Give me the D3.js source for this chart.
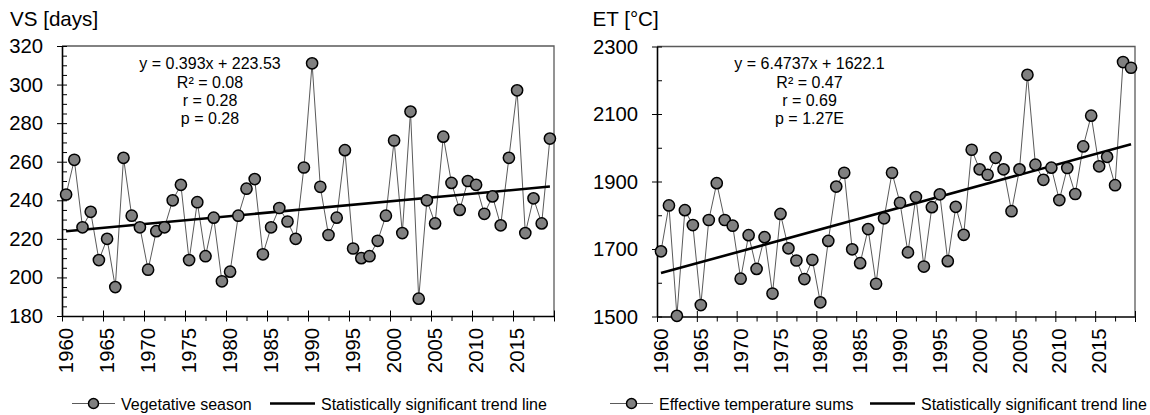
<!DOCTYPE html>
<html>
<head>
<meta charset="utf-8">
<script src="https://cdn.jsdelivr.net/npm/d3@7"></script>
<style>
body { margin: 0; background: #fff; }
svg { display: block; font-family: "Liberation Sans", Arial, sans-serif; }
</style>
</head>
<body>
<svg id="chart" width="1150" height="415"></svg>
<script>
"use strict";

var years = d3.range(1960, 2020);
var yearLabels = [1960, 1965, 1970, 1975, 1980, 1985, 1990, 1995, 2000, 2005, 2010, 2015];

// vegetative season length [days]
var vsDays = [243, 261, 226, 234, 209, 220, 195, 262, 232, 226,
    204, 224, 226, 240, 248, 209, 239, 211, 231, 198,
    203, 232, 246, 251, 212, 226, 236, 229, 220, 257,
    311, 247, 222, 231, 266, 215, 210, 211, 219, 232,
    271, 223, 286, 189, 240, 228, 273, 249, 235, 250,
    248, 233, 242, 227, 262, 297, 223, 241, 228, 272];

// effective temperature sums [°C]
var etSums = [1693, 1829, 1502, 1815, 1771, 1534, 1786, 1895, 1786, 1769,
    1612, 1741, 1641, 1735, 1568, 1804, 1702, 1666, 1611, 1668,
    1542, 1724, 1885, 1926, 1699, 1658, 1759, 1597, 1791, 1926,
    1837, 1690, 1854, 1648, 1824, 1862, 1664, 1825, 1742, 1994,
    1936, 1920, 1970, 1936, 1812, 1936, 2216, 1950, 1905, 1941,
    1845, 1940, 1863, 2004, 2095, 1945, 1973, 1889, 2254, 2237];

var vsTicks = [180, 200, 220, 240, 260, 280, 300, 320];
var etTicks = [1500, 1700, 1900, 2100, 2300];

// trend: slope, intercept (x = 1..60)
var vsTrend = [0.393, 223.53];
var etTrend = [6.4737, 1622.1];

var vsStats = ["y = 0.393x + 223.53", "R\u00b2 = 0.08", "r = 0.28", "p = 0.28"];
var etStats = ["y = 6.4737x + 1622.1", "R\u00b2 = 0.47", "r = 0.69", "p = 1.27E"];

var svg = d3.select("#chart");

function drawPanel(cfg) {
    var g = svg.append("g");
    var x = d3.scaleBand().domain(years).range([cfg.left, cfg.right]);
    var xb = d3.scaleLinear().domain([0, years.length]).range([cfg.left, cfg.right]);
    var y = d3.scaleLinear().domain([cfg.ticks[0], cfg.ticks[cfg.ticks.length - 1]]).range([cfg.bottom, cfg.top]);
    var bw = x.bandwidth();

    // frame top + right
    g.append("path")
        .attr("d", "M" + cfg.left + "," + cfg.top + "H" + cfg.right + "V" + cfg.bottom)
        .attr("fill", "none").attr("stroke", "#5a5a5a").attr("stroke-width", 1.3);

    // y axis, major ticks crossing
    var yAxis = g.append("g").attr("transform", "translate(" + cfg.left + ",0)")
        .call(d3.axisLeft(y).tickValues(cfg.ticks).tickFormat(d3.format("d"))
            .tickSize(5).tickSizeOuter(0).tickPadding(14));
    yAxis.selectAll(".tick line").attr("x1", 5);
    yAxis.select(".domain").attr("stroke-width", 1.6);
    yAxis.selectAll("text").attr("font-size", 20.3).attr("fill", "#000");

    // y minor ticks, inside
    var minorY = d3.range(cfg.ticks[0], cfg.ticks[cfg.ticks.length - 1], cfg.minorStep)
        .filter(function (v) { return cfg.ticks.indexOf(v) < 0; });
    var yMinor = g.append("g").attr("transform", "translate(" + cfg.left + ",0)")
        .call(d3.axisRight(y).tickValues(minorY).tickSize(5).tickSizeOuter(0).tickFormat(""));
    yMinor.select(".domain").remove();

    // x axis ticks on band edges
    var majorX = d3.range(0, years.length + 1, 5);
    var minorX = d3.range(2.5, years.length, 5);
    var xAxis = g.append("g").attr("transform", "translate(0," + cfg.bottom + ")")
        .call(d3.axisBottom(xb).tickValues(majorX).tickSize(5.5).tickSizeOuter(0).tickFormat(""));
    xAxis.selectAll(".tick line").attr("y1", -5.5);
    xAxis.select(".domain").attr("stroke-width", 1.6);
    var xMinor = g.append("g").attr("transform", "translate(0," + cfg.bottom + ")")
        .call(d3.axisBottom(xb).tickValues(minorX).tickSize(5).tickFormat(""));
    xMinor.select(".domain").remove();

    // x labels at band centres, rotated
    var xLab = g.append("g").attr("transform", "translate(0," + cfg.bottom + ")")
        .call(d3.axisBottom(x).tickValues(yearLabels).tickSize(0));
    xLab.select(".domain").remove();
    xLab.selectAll("text")
        .attr("font-size", 20.3).attr("fill", "#000")
        .attr("transform", "rotate(-90)")
        .attr("x", -12).attr("y", 0).attr("dy", "0.35em")
        .attr("text-anchor", "end");

    svg.selectAll(".tick line, .domain").attr("stroke", "#000");

    // title
    g.append("text").attr("x", cfg.titleX).attr("y", 25.5)
        .attr("font-size", 20.6).text(cfg.title);

    // stats text
    g.append("g").selectAll("text").data(cfg.stats).enter().append("text")
        .attr("x", cfg.statsX)
        .attr("y", function (_, i) { return 69.3 + i * 18.35; })
        .attr("text-anchor", "middle").attr("font-size", 16)
        .text(function (d) { return d; });

    // series
    var line = d3.line()
        .x(function (d, i) { return x(years[i]) + bw / 2; })
        .y(function (d) { return y(d); });
    g.append("path").datum(cfg.values)
        .attr("d", line)
        .attr("fill", "none").attr("stroke", "#5a5a5a").attr("stroke-width", 1);

    // trend line
    var trendX = [1, years.length];
    g.append("path").datum(trendX)
        .attr("d", d3.line()
            .x(function (d) { return x(years[d - 1]) + bw / 2; })
            .y(function (d) { return y(cfg.trend[0] * d + cfg.trend[1]); }))
        .attr("fill", "none").attr("stroke", "#000").attr("stroke-width", 2.6);

    g.append("g").selectAll("circle").data(cfg.values).enter().append("circle")
        .attr("cx", function (d, i) { return x(years[i]) + bw / 2; })
        .attr("cy", function (d) { return y(d); })
        .attr("r", 5.6)
        .attr("fill", "#808080").attr("stroke", "#000").attr("stroke-width", 1.5);

    // legend
    var ly = 403.5;
    var lg = g.append("g");
    lg.append("line").attr("x1", cfg.leg[0]).attr("x2", cfg.leg[0] + 43)
        .attr("y1", ly).attr("y2", ly).attr("stroke", "#5a5a5a").attr("stroke-width", 1);
    lg.append("circle").attr("cx", cfg.leg[0] + 21.5).attr("cy", ly).attr("r", 5)
        .attr("fill", "#808080").attr("stroke", "#000").attr("stroke-width", 1.5);
    lg.append("text").attr("x", cfg.leg[0] + 49).attr("y", ly + 6)
        .attr("font-size", 16).text(cfg.seriesName);
    lg.append("line").attr("x1", cfg.leg[1]).attr("x2", cfg.leg[1] + 45)
        .attr("y1", ly).attr("y2", ly).attr("stroke", "#000").attr("stroke-width", 2.6);
    lg.append("text").attr("x", cfg.leg[1] + 51).attr("y", ly + 6)
        .attr("font-size", 16).text("Statistically significant trend line");
}

drawPanel({
    left: 62, right: 554, top: 46, bottom: 316,
    ticks: vsTicks, minorStep: 5,
    values: vsDays, trend: vsTrend, stats: vsStats, statsX: 210,
    title: "VS [days]", titleX: 10,
    seriesName: "Vegetative season", leg: [72, 270]
});

drawPanel({
    left: 657, right: 1135, top: 46.5, bottom: 316.5,
    ticks: etTicks, minorStep: 100,
    values: etSums, trend: etTrend, stats: etStats, statsX: 809.5,
    title: "ET [\u00b0C]", titleX: 592.5,
    seriesName: "Effective temperature sums", leg: [610, 870]
});
</script>
</body>
</html>
